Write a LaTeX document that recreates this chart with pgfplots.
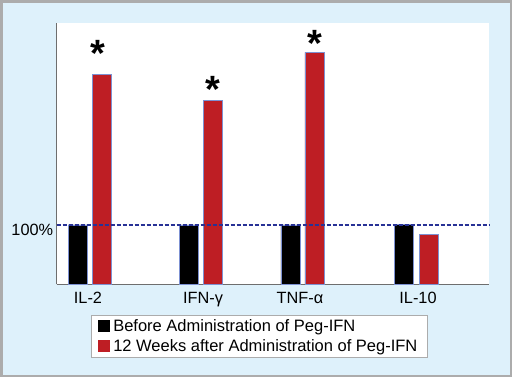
\documentclass[border=0pt]{standalone}
\usepackage{pgfplots}
\pgfplotsset{compat=1.18}
\usepackage{fontspec}
\setmainfont{Liberation Sans}
\definecolor{bgblue}{RGB}{222,241,251}
\definecolor{framegray}{RGB}{172,172,172}
\definecolor{axisgray}{RGB}{110,110,110}
\definecolor{barred}{RGB}{190,30,36}
\definecolor{edgeblue}{RGB}{125,145,210}
\definecolor{dashblue}{RGB}{40,50,150}
\pgfplotsset{sqlegend/.style={legend image code/.code={\fill[##1,draw=none] (0bp,-6.25bp) rectangle (12.5bp,6.25bp);}}}
\begin{document}
\begin{tikzpicture}
\fill[bgblue] (0,0) rectangle (512bp,-377bp);
\draw[framegray, line width=2.5bp] (1.25bp,-1.25bp) rectangle (510.75bp,-375.75bp);
\begin{axis}[
  anchor=south west, at={(56.7bp,-284.3bp)},
  scale only axis, width=432.3bp, height=261.3bp,
  xmin=56.7, xmax=489, ymin=0, ymax=440.6,
  axis background/.style={fill=white},
  axis x line*=bottom, axis y line*=left,
  axis line style={draw=axisgray, line width=1bp},
  xtick={88,203,300,418}, xticklabels={IL-2,IFN-γ,TNF-α,IL-10},
  ytick={100}, yticklabels={100\%},
  major tick length=0pt,
  tick label style={font=\fontsize{16.3bp}{19bp}\selectfont},
  xticklabel style={yshift=-4bp},
  yticklabel style={yshift=-4.5bp},
  clip=false,
  legend style={at={(0.0793,-0.1175)}, anchor=north west, draw=framegray, fill=white,
    font=\fontsize{16.5bp}{19bp}\selectfont, inner xsep=6.5bp, inner ysep=1.2bp, row sep=0bp,
    nodes={inner sep=3.1bp}},
  legend cell align=left,
]
\addplot[ybar, bar width=19bp, bar shift=0pt, fill=black, draw=edgeblue, line width=0.6bp, sqlegend]
  coordinates {(77.5,100) (188.8,100) (290.3,100) (404,100.5)};
\addlegendentry{Before Administration of Peg-IFN}
\addplot[ybar, bar width=19bp, bar shift=0pt, fill=barred, draw=edgeblue, line width=0.6bp, sqlegend]
  coordinates {(102.2,354) (213.2,310) (314.3,391) (428.5,84)};
\addlegendentry{12 Weeks after Administration of Peg-IFN}
\addplot[forget plot, dashblue, line width=1.5bp, dash pattern=on 4bp off 2bp]
  coordinates {(56.7,100) (489,100)};
\addplot[forget plot, only marks, mark=text, text mark={\fontsize{38bp}{38bp}\selectfont\bfseries *}]
  coordinates {(97.5,389) (212.7,328) (315.3,407)};
\end{axis}
\end{tikzpicture}
\end{document}
